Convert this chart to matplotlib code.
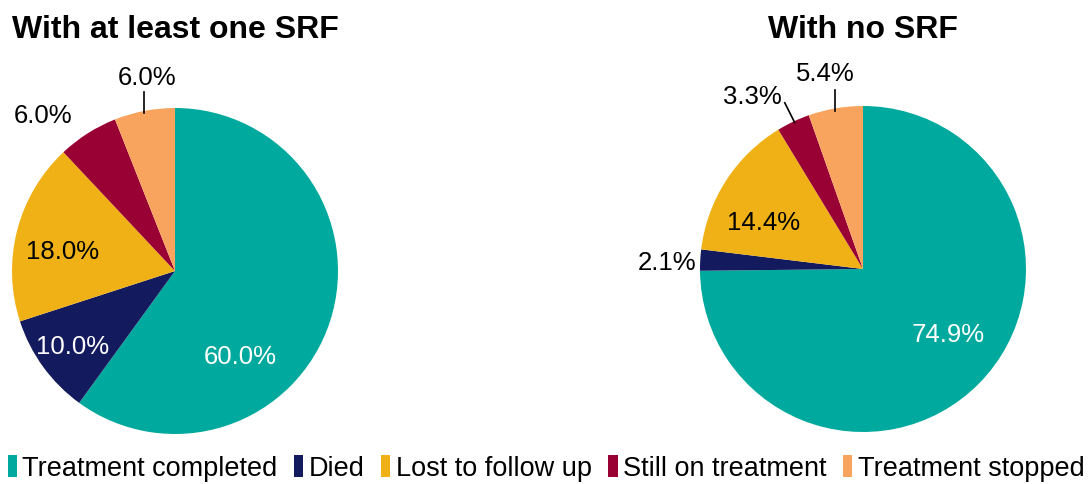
import matplotlib.pyplot as plt
from matplotlib.patches import Patch

plt.rcParams['font.family'] = ['Liberation Sans', 'DejaVu Sans']

categories = ["Treatment completed", "Died", "Lost to follow up",
              "Still on treatment", "Treatment stopped"]
colors = ["#00A99D", "#141A5E", "#EFB115", "#990033", "#F8A45F"]

srf_values = [60.0, 10.0, 18.0, 6.0, 6.0]
nosrf_values = [74.9, 2.1, 14.4, 3.3, 5.4]

# label positions (in units of pie radius) and text colours
srf_label_pos = [(0.40, -0.52), (-0.63, -0.46), (-0.69, 0.12), (-0.81, 0.96), (-0.17, 1.19)]
srf_label_col = ["white", "white", "black", "black", "black"]
srf_leaders = [None, None, None, None, ((-0.19, 1.10), (-0.19, 0.97))]

nosrf_label_pos = [(0.52, -0.40), (-1.20, 0.04), (-0.61, 0.29), (-0.68, 1.06), (-0.23, 1.20)]
nosrf_label_col = ["white", "black", "black", "black", "black"]
nosrf_leaders = [None, None, None, ((-0.48, 1.02), (-0.42, 0.90)), ((-0.17, 1.10), (-0.17, 0.97))]

fig = plt.figure(figsize=(10.89, 4.85), dpi=100)


def draw_pie(rect, values, label_pos, label_col, leaders):
    ax = fig.add_axes(rect)
    ax.pie(values, colors=colors, startangle=90, counterclock=False, radius=1,
           wedgeprops=dict(linewidth=0))
    for v, (x, y), c in zip(values, label_pos, label_col):
        ax.text(x, y, f"{v:.1f}%", ha="center", va="center", fontsize=18.5,
                color=c, clip_on=False)
    for ld in leaders:
        if ld is not None:
            (x0, y0), (x1, y1) = ld
            ax.plot([x0, x1], [y0, y1], color="black", lw=1.2, clip_on=False)
    ax.set_xlim(-1, 1)
    ax.set_ylim(-1, 1)
    ax.set_aspect("equal")
    ax.axis("off")
    return ax


W, H = 1089, 485
r = 163
draw_pie([(175 - r) / W, (H - 272 - r) / H, 2 * r / W, 2 * r / H],
         srf_values, srf_label_pos, srf_label_col, srf_leaders)
draw_pie([(863 - r) / W, (H - 270 - r) / H, 2 * r / W, 2 * r / H],
         nosrf_values, nosrf_label_pos, nosrf_label_col, nosrf_leaders)

fig.text(12 / W, 1 - 30 / H, "With at least one SRF", ha="left", va="center",
         fontsize=23, fontweight="bold")
fig.text(863 / W, 1 - 30 / H, "With no SRF", ha="center", va="center",
         fontsize=23, fontweight="bold")

handles = [Patch(facecolor=c, edgecolor="none") for c in colors]
fig.legend(handles, categories, loc="center", bbox_to_anchor=(546 / W, 1 - 469 / H),
           ncol=5, frameon=False, fontsize=19.5, handlelength=0.35, handleheight=0.9,
           handletextpad=0.2, columnspacing=0.6, borderpad=0, borderaxespad=0)

fig.savefig("out.png", dpi=100)
